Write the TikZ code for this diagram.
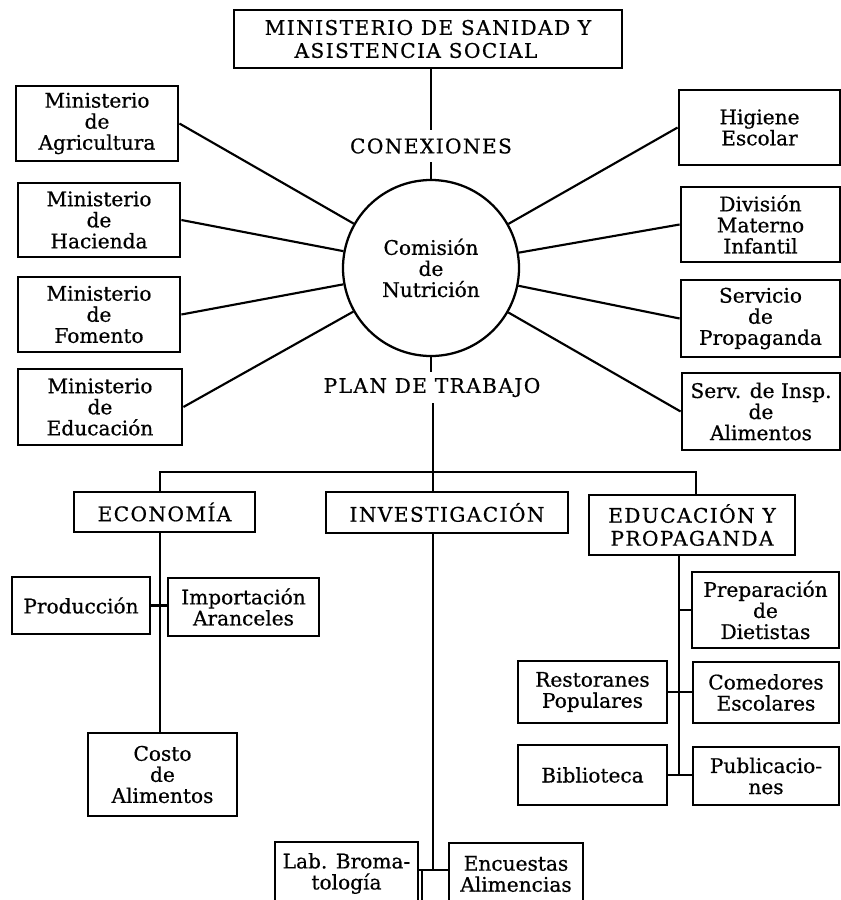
\documentclass[tikz,border=0pt]{standalone}
\usepackage{fontspec}
\setmainfont[FakeBold=0.6]{DejaVu Serif}
\newfontfamily\capsfnt[LetterSpace=7,FakeBold=0.6]{DejaVu Serif}
\begin{document}
\begin{tikzpicture}[x=0.75pt,y=-0.75pt,
  bx/.style 2 args={draw, line width=2.1pt, rectangle, inner sep=0pt, align=center,
    minimum width=#1*0.75pt, minimum height=#2*0.75pt,
    font=\fontsize{15.1}{15.8}\selectfont},
  cbx/.style 2 args={bx={#1}{#2}, font=\capsfnt\fontsize{15.1}{17.2}\selectfont},
  lbl/.style={inner sep=0pt, font=\capsfnt\fontsize{15.1}{17}\selectfont, minimum height=#1*0.75pt},
  lbl/.default=31,
  ln/.style={line width=1.6pt}]
\clip (0,0) rectangle (841,900);
\fill[white] (0,0) rectangle (841,900);
% top
\node[cbx={388}{58}] (top) at (428,39) {MINISTERIO DE SANIDAD Y\\ASISTENCIA SOCIAL\hspace*{18pt}};
% circle
\node[circle, draw, line width=1.7pt, minimum size=176*0.75pt, inner sep=0pt, align=center,
  font=\fontsize{15.1}{15.8}\selectfont] (circ) at (431,268) {Comisión\\de\\Nutrición};
\node[lbl=32] (conex) at (431,146) {CONEXIONES};
\node[lbl=31] (plan) at (432,387.5) {PLAN DE TRABAJO};
% left
\node[bx={162}{75}] (agr) at (97,123.5) {Ministerio\\de\\Agricultura};
\node[bx={162}{74}] (hac) at (99,220) {Ministerio\\de\\Hacienda};
\node[bx={162}{75}] (fom) at (99,314.5) {Ministerio\\de\\Fomento};
\node[bx={164}{76}] (edu) at (100,407) {Ministerio\\de\\Educación};
% right
\node[bx={161}{75}] (hig) at (759.5,127.5) {Higiene\\Escolar};
\node[bx={159}{75}] (div) at (760.5,224.5) {División\\Materno\\Infantil};
\node[bx={159}{77}] (ser) at (760.5,318.5) {Servicio\\de\\Propaganda};
\node[bx={158}{77}] (ins) at (761,411.5) {Serv. de Insp.\\de\\Alimentos};
% lower level
\node[cbx={181}{40}] (eco) at (164.5,512) {ECONOMÍA};
\node[cbx={242}{41}] (inv) at (447,512.5) {INVESTIGACIÓN};
\node[cbx={206}{60}] (edp) at (692,525) {EDUCACIÓN Y\\PROPAGANDA};
\node[bx={138}{57}] (pro) at (81,605.5) {Producción};
\node[bx={151}{58}] (imp) at (243.5,607) {Importación\\Aranceles};
\node[bx={149}{83}] (cos) at (162.5,774.5) {Costo\\de\\Alimentos};
\node[bx={147}{76}] (pre) at (765.5,610) {Preparación\\de\\Dietistas};
\node[bx={146}{61}] (com) at (766,692.5) {Comedores\\Escolares};
\node[bx={149}{62}] (res) at (592.5,692) {Restoranes\\Populares};
\node[bx={149}{60}] (bib) at (592.5,775) {Biblioteca};
\node[bx={146}{58}] (pub) at (766,776) {Publicacio-\\nes};
\node[bx={143}{63}] (lab) at (346.5,873.5) {Lab. Broma-\\tología};
\node[bx={134}{62}] (enc) at (516,874) {Encuestas\\Alimencias};
% coordinates
\coordinate (bl) at (160,472);
\coordinate (br) at (696,472);
\coordinate (ij) at (433,870);
\coordinate (et) at (679,555);
% trunk
\draw[ln] (top.south -| circ) -- (conex.north);
\draw[ln] (conex.south) -- (circ.north);
\draw[ln] (circ.south) -- (circ.south |- plan.north);
\draw[ln] (plan.south -| ij) -- (inv.north -| ij);
% spokes
\foreach \n in {agr,hac,fom,edu} \draw[ln] (\n.east) -- (circ);
\foreach \n in {hig,div,ser,ins} \draw[ln] (\n.west) -- (circ);
% bus
\draw[ln] (eco.north -| bl) -- (bl) -- (br) -- (edp.north -| br);
% economia
\draw[ln] (eco.south -| bl) -- (cos.north -| bl);
\draw[ln] (pro.east) -- (pro.east -| imp.west);
% investigacion
\draw[ln] (inv.south -| ij) -- (ij);
\draw[ln] (ij -| lab.east) -- (ij -| enc.west);
\draw[ln] ([xshift=2.2pt]ij -| lab.east) -- ([xshift=2.2pt]lab.south east);
% educacion
\draw[ln] (edp.south -| et) -- (bib.east -| et);
\draw[ln] (pre.west -| et) -- (pre.west);
\draw[ln] (res.east) -- (res.east -| com.west);
\draw[ln] (bib.east) -- (bib.east -| pub.west);
\end{tikzpicture}
\end{document}
